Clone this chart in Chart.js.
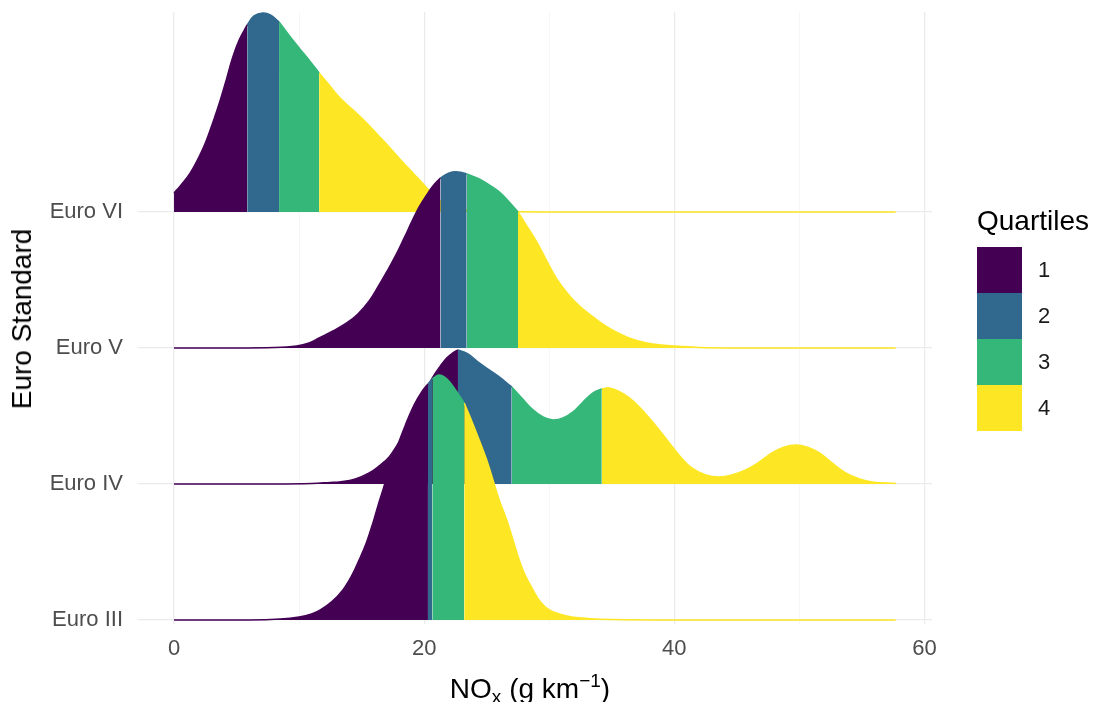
<!DOCTYPE html>
<html lang="en">
<head>
    <meta charset="UTF-8">
    <title>NOx by Euro Standard</title>
    <script src="https://cdn.jsdelivr.net/npm/chart.js@4.4.1/dist/chart.umd.min.js"></script>
    <style>
        html, body {
            margin: 0;
            padding: 0;
            background: #fff;
        }
        #wrap {
            position: relative;
            width: 1096px;
            height: 702px;
            font-family: "Liberation Sans", Arial, Helvetica, sans-serif;
        }
        #wrap canvas {
            position: absolute;
            left: 0;
            top: 0;
        }
        .ytitle {
            position: absolute;
            left: 22px;
            top: 319px;
            transform: translate(-50%, -50%) rotate(-90deg);
            font-size: 28px;
            white-space: nowrap;
            color: #000;
        }
        .xtitle {
            position: absolute;
            left: 530px;
            top: 670px;
            transform: translateX(-50%);
            font-size: 28px;
            white-space: nowrap;
            color: #000;
        }
        .xtitle sub, .xtitle sup {
            font-size: 19px;
        }
        .xtitle sup {
            vertical-align: 11px;
        }
        .xtitle sub {
            vertical-align: -5px;
        }
        #legend {
            position: absolute;
            left: 977px;
            top: 205px;
        }
        #legend .title {
            font-size: 28px;
            color: #000;
            margin-bottom: 10px;
        }
        #legend .row {
            display: flex;
            align-items: center;
            height: 46px;
        }
        #legend .key {
            width: 45px;
            height: 46px;
        }
        #legend .lab {
            font-size: 22px;
            color: #1a1a1a;
            margin-left: 16px;
        }
    </style>
</head>
<body>
<div id="wrap">
    <canvas id="ridges" width="1096" height="702"></canvas>
    <div class="ytitle">Euro Standard</div>
    <div class="xtitle">NO<sub>x</sub> (g km<sup>&minus;1</sup>)</div>
    <div id="legend"></div>
</div>

<script>
    // categories, bottom to top
    const standards = ['Euro III', 'Euro IV', 'Euro V', 'Euro VI'];
    const quartileNames = ['1', '2', '3', '4'];
    const quartileColors = ['#440154', '#31688E', '#35B779', '#FDE725'];
    const xTicks = [0, 10, 20, 30, 40, 50, 60];

    // density curves (x in g/km, height in scaled density units)
    const euro3X = [0, 6, 8.5, 10, 11, 11.7, 12.6, 13.5, 14.2, 14.8, 15.4, 15.9, 16.3, 16.7, 17.2, 17.8, 18.5, 19.2, 19.8, 20.3, 20.65, 21.2, 21.8, 22.5, 23.2, 23.8, 24.4, 25.0, 25.5, 26.0, 26.6, 27.1, 27.6, 28.1, 28.7, 29.3, 30.0, 30.8, 31.8, 33, 35, 40, 57.7];
    const euro3H = [0, 0, 1, 3, 6, 10, 18, 30, 44, 60, 78, 97, 114, 130, 150, 172, 195, 215, 228, 236, 241, 245, 241, 230, 217, 199, 180, 160, 140, 120, 100, 80, 60, 44, 30, 18, 10, 6, 3, 1.5, 0.5, 0, 0];
    const euro3Q = [20.3, 20.65, 23.2];

    const euro4X = [0, 8, 11, 12.5, 13.2, 14.5, 15.6, 16.4, 17.2, 17.9, 18.6, 19.1, 19.6, 20.2, 20.7, 21.3, 21.8, 22.3, 22.7, 23.5, 24.4, 25.2, 26.0, 27.0, 27.8, 28.7, 29.5, 30.3, 31.1, 31.9, 32.7, 33.5, 34.2, 34.8, 35.5, 36.3, 37.2, 38.4, 39.6, 40.5, 41.4, 42.5, 43.6, 44.6, 45.7, 46.8, 47.8, 48.8, 49.7, 50.6, 51.6, 52.6, 53.7, 54.8, 55.8, 57.7];
    const euro4H = [0, 0, 0.5, 1.5, 2, 5, 11, 18, 27, 40, 54, 67, 81, 95, 107, 118, 126, 131, 134, 130, 121, 114, 107, 97, 86, 74, 67, 64, 66, 72, 82, 91, 95, 96, 93, 87, 77, 60, 41, 27, 16, 9, 7, 9, 14, 22, 31, 37, 39, 37, 31, 21, 11, 5, 2, 0.5];
    const euro4Q = [22.7, 27.0, 34.2];

    const euro5X = [0, 4, 8, 9.8, 10.8, 11.6, 12.7, 13.8, 14.7, 15.6, 16.3, 17.0, 17.7, 18.4, 19.0, 19.6, 20.2, 20.7, 21.3, 22.0, 22.7, 23.4, 24.4, 25.2, 26.0, 26.8, 27.5, 28.2, 29.0, 29.8, 30.6, 31.5, 32.4, 33.5, 34.5, 35.5, 36.6, 37.8, 39, 40.5, 42, 45, 57.7];
    const euro5H = [0, 0, 0.5, 2, 5, 10, 17, 25, 34, 47, 61, 76, 92, 110, 126, 141, 153, 162, 170, 175, 176, 174, 169, 163, 156, 146, 136, 122, 106, 87, 69, 54, 42, 31, 22, 15, 9, 5, 3, 1.5, 0.5, 0, 0];
    const euro5Q = [21.3, 23.4, 27.5];

    const euro6X = [0, 0.5, 1.3, 2.0, 2.6, 3.2, 3.7, 4.2, 4.7, 5.25, 5.85, 6.4, 7.1, 7.7, 8.4, 9.3, 10.0, 10.6, 11.6, 12.4, 13.2, 14.3, 15.4, 16.3, 17.2, 18.2, 19.1, 20.0, 20.8, 21.5, 22.3, 23.2, 24.5, 26, 30, 40, 50, 57.7];
    const euro6H = [19, 26, 39, 55, 72, 93, 112, 133, 155, 173, 187, 196, 199, 197, 190, 175, 164, 155, 139, 127, 115, 102, 89, 77, 65, 51, 39, 27, 16, 9, 5, 2.5, 1, 0.3, 0, 0, 0, 0];
    const euro6Q = [5.85, 8.4, 11.6];

    const ridgeScale = 1 / 136;

    const ridges = [
        { xs: euro3X, hs: euro3H, q: euro3Q },
        { xs: euro4X, hs: euro4H, q: euro4Q },
        { xs: euro5X, hs: euro5H, q: euro5Q },
        { xs: euro6X, hs: euro6H, q: euro6Q }
    ];

    function buildDatasets() {
        const sets = [];
        // Euro III first so it is drawn on top of the ridges behind it
        ridges.forEach((r, i) => {
            const base = i + 1;
            const cuts = [-Infinity, ...r.q, Infinity];
            for (let k = 0; k < 4; k++) {
                const pts = [];
                r.xs.forEach((x, j) => {
                    if (x >= cuts[k] && x <= cuts[k + 1]) {
                        pts.push({ x: x, y: base + r.hs[j] * ridgeScale });
                    }
                });
                sets.push({
                    label: standards[i] + ' Q' + quartileNames[k],
                    data: pts,
                    fill: { value: base },
                    backgroundColor: quartileColors[k],
                    borderColor: quartileColors[k],
                    borderWidth: 1.5,
                    pointRadius: 0,
                    tension: 0.4
                });
            }
        });
        return sets;
    }

    new Chart(document.getElementById('ridges'), {
        type: 'line',
        data: { datasets: buildDatasets() },
        options: {
            responsive: false,
            animation: false,
            layout: { padding: { left: 0, right: 164, top: 12, bottom: 0 } },
            plugins: {
                legend: { display: false },
                tooltip: { enabled: false }
            },
            scales: {
                x: {
                    type: 'linear',
                    min: -2.88,
                    max: 60.6,
                    afterBuildTicks: s => { s.ticks = xTicks.map(v => ({ value: v })); },
                    afterFit: s => { s.height = 78; s.paddingLeft = 0; s.paddingRight = 0; },
                    border: { display: false },
                    grid: {
                        drawTicks: false,
                        color: c => c.tick && c.tick.value % 20 === 0 ? '#EBEBEB' : '#F4F4F4',
                        lineWidth: c => c.tick && c.tick.value % 20 === 0 ? 1.3 : 0.8
                    },
                    ticks: {
                        padding: 12,
                        color: '#4D4D4D',
                        font: { family: '"Liberation Sans", Arial, sans-serif', size: 22 },
                        callback: v => (v % 20 === 0 ? v : '')
                    }
                },
                y: {
                    type: 'linear',
                    min: 0.97,
                    max: 5.47,
                    afterBuildTicks: s => { s.ticks = standards.map((n, i) => ({ value: i + 1 })); },
                    afterFit: s => { s.width = 138; s.paddingTop = 0; s.paddingBottom = 0; },
                    border: { display: false },
                    grid: { drawTicks: false, color: '#EBEBEB', lineWidth: 1.3 },
                    ticks: {
                        padding: 15,
                        color: '#4D4D4D',
                        font: { family: '"Liberation Sans", Arial, sans-serif', size: 22 },
                        callback: v => standards[Math.round(v) - 1] || ''
                    }
                }
            }
        }
    });

    // legend
    const legend = document.getElementById('legend');
    legend.innerHTML = '<div class="title">Quartiles</div>' + quartileNames.map((n, k) =>
        `<div class="row"><div class="key" style="background:${quartileColors[k]}"></div><div class="lab">${n}</div></div>`
    ).join('');
</script>
</body>
</html>
